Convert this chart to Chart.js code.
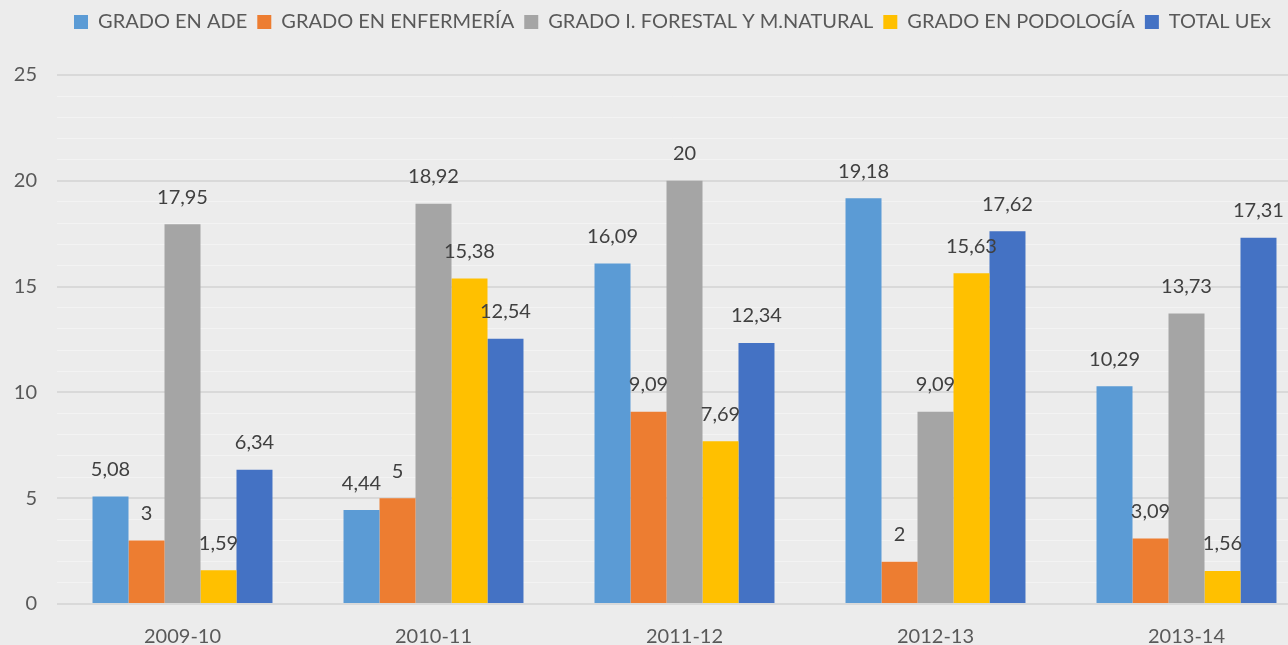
<!DOCTYPE html>
<html>
<head>
<meta charset="utf-8">
<script src="https://cdn.jsdelivr.net/npm/chart.js@4.4.1/dist/chart.umd.min.js"></script>
<style>
  html, body { margin: 0; padding: 0; background: #ececec; }
  #wrap { width: 1288px; height: 645px; }
</style>
</head>
<body>
<div id="wrap"><canvas id="grafico" width="1288" height="645"></canvas></div>
<script>
// datos
const cursos = ["2009-10", "2010-11", "2011-12", "2012-13", "2013-14"];
const gradoADE = [5.08, 4.44, 16.09, 19.18, 10.29];
const gradoEnfermeria = [3, 5, 9.09, 2, 3.09];
const gradoForestal = [17.95, 18.92, 20, 9.09, 13.73];
const gradoPodologia = [1.59, 15.38, 7.69, 15.63, 1.56];
const totalUEx = [6.34, 12.54, 12.34, 17.62, 17.31];

const FUENTE = "Lato, 'Open Sans', sans-serif";
const GRIS_TEXTO = "#595959";

// etiquetas encima de cada barra (sin plugin externo)
const etiquetasBarras = {
  id: "etiquetasBarras",
  afterDatasetsDraw(chart) {
    const ctx = chart.ctx;
    ctx.save();
    ctx.font = "20px " + FUENTE;
    ctx.fillStyle = "#404040";
    ctx.textAlign = "center";
    ctx.textBaseline = "middle";
    chart.data.datasets.forEach((ds, i) => {
      chart.getDatasetMeta(i).data.forEach((bar, j) => {
        const txt = String(ds.data[j]).replace(".", ",");
        ctx.fillText(txt, bar.x, bar.y - 27);
      });
    });
    ctx.restore();
  }
};

// leyenda más alta y centrada; el eje X se alarga porque el original está recortado por la derecha
const ajusteLeyenda = {
  id: "ajusteLeyenda",
  beforeInit(chart) {
    const fitOriginal = chart.legend.fit;
    chart.legend.fit = function () {
      fitOriginal.bind(chart.legend)();
      this.height = 73;
    };
  },
  afterLayout(chart) {
    chart.legend.left = chart.chartArea.left;
    chart.legend.right = chart.width;
    const x = chart.scales.x;
    x.right = chart.width + 24;
    x.width = x.right - x.left;
    x.configure();
  }
};

new Chart(document.getElementById("grafico"), {
  type: "bar",
  data: {
    labels: cursos,
    datasets: [
      { label: "GRADO EN ADE", data: gradoADE, backgroundColor: "#5b9bd5" },
      { label: "GRADO EN ENFERMERÍA", data: gradoEnfermeria, backgroundColor: "#ed7d31" },
      { label: "GRADO I. FORESTAL Y M.NATURAL", data: gradoForestal, backgroundColor: "#a5a5a5" },
      { label: "GRADO EN PODOLOGÍA", data: gradoPodologia, backgroundColor: "#ffc000" },
      { label: "TOTAL UEx", data: totalUEx, backgroundColor: "#4472c4" }
    ]
  },
  options: {
    responsive: false,
    animation: false,
    datasets: { bar: { barPercentage: 1, categoryPercentage: 0.717 } },
    layout: { padding: { top: 2, right: 0, bottom: 0, left: 0 } },
    plugins: {
      tooltip: { enabled: false },
      legend: {
        position: "top",
        labels: {
          boxWidth: 14, boxHeight: 14, padding: 10,
          color: GRIS_TEXTO,
          font: { family: FUENTE, size: 20 }
        }
      }
    },
    scales: {
      x: {
        afterFit(scale) { scale.height = 41; },
        grid: { display: false },
        border: { display: false },
        ticks: { color: GRIS_TEXTO, font: { family: FUENTE, size: 20 }, padding: 13 }
      },
      y: {
        min: 0, max: 25,
        afterFit(scale) { scale.width = 57; },
        border: { display: false },
        grid: {
          drawTicks: false,
          color: c => (c.tick.value % 5 === 0 ? "#d9d9d9" : "#f3f3f3"),
          lineWidth: c => (c.tick.value % 5 === 0 ? 2 : 1)
        },
        ticks: {
          stepSize: 1, autoSkip: false, padding: 20,
          color: GRIS_TEXTO, font: { family: FUENTE, size: 20 },
          callback: v => (v % 5 === 0 ? v : "")
        }
      }
    }
  },
  plugins: [etiquetasBarras, ajusteLeyenda]
});
</script>
</body>
</html>
